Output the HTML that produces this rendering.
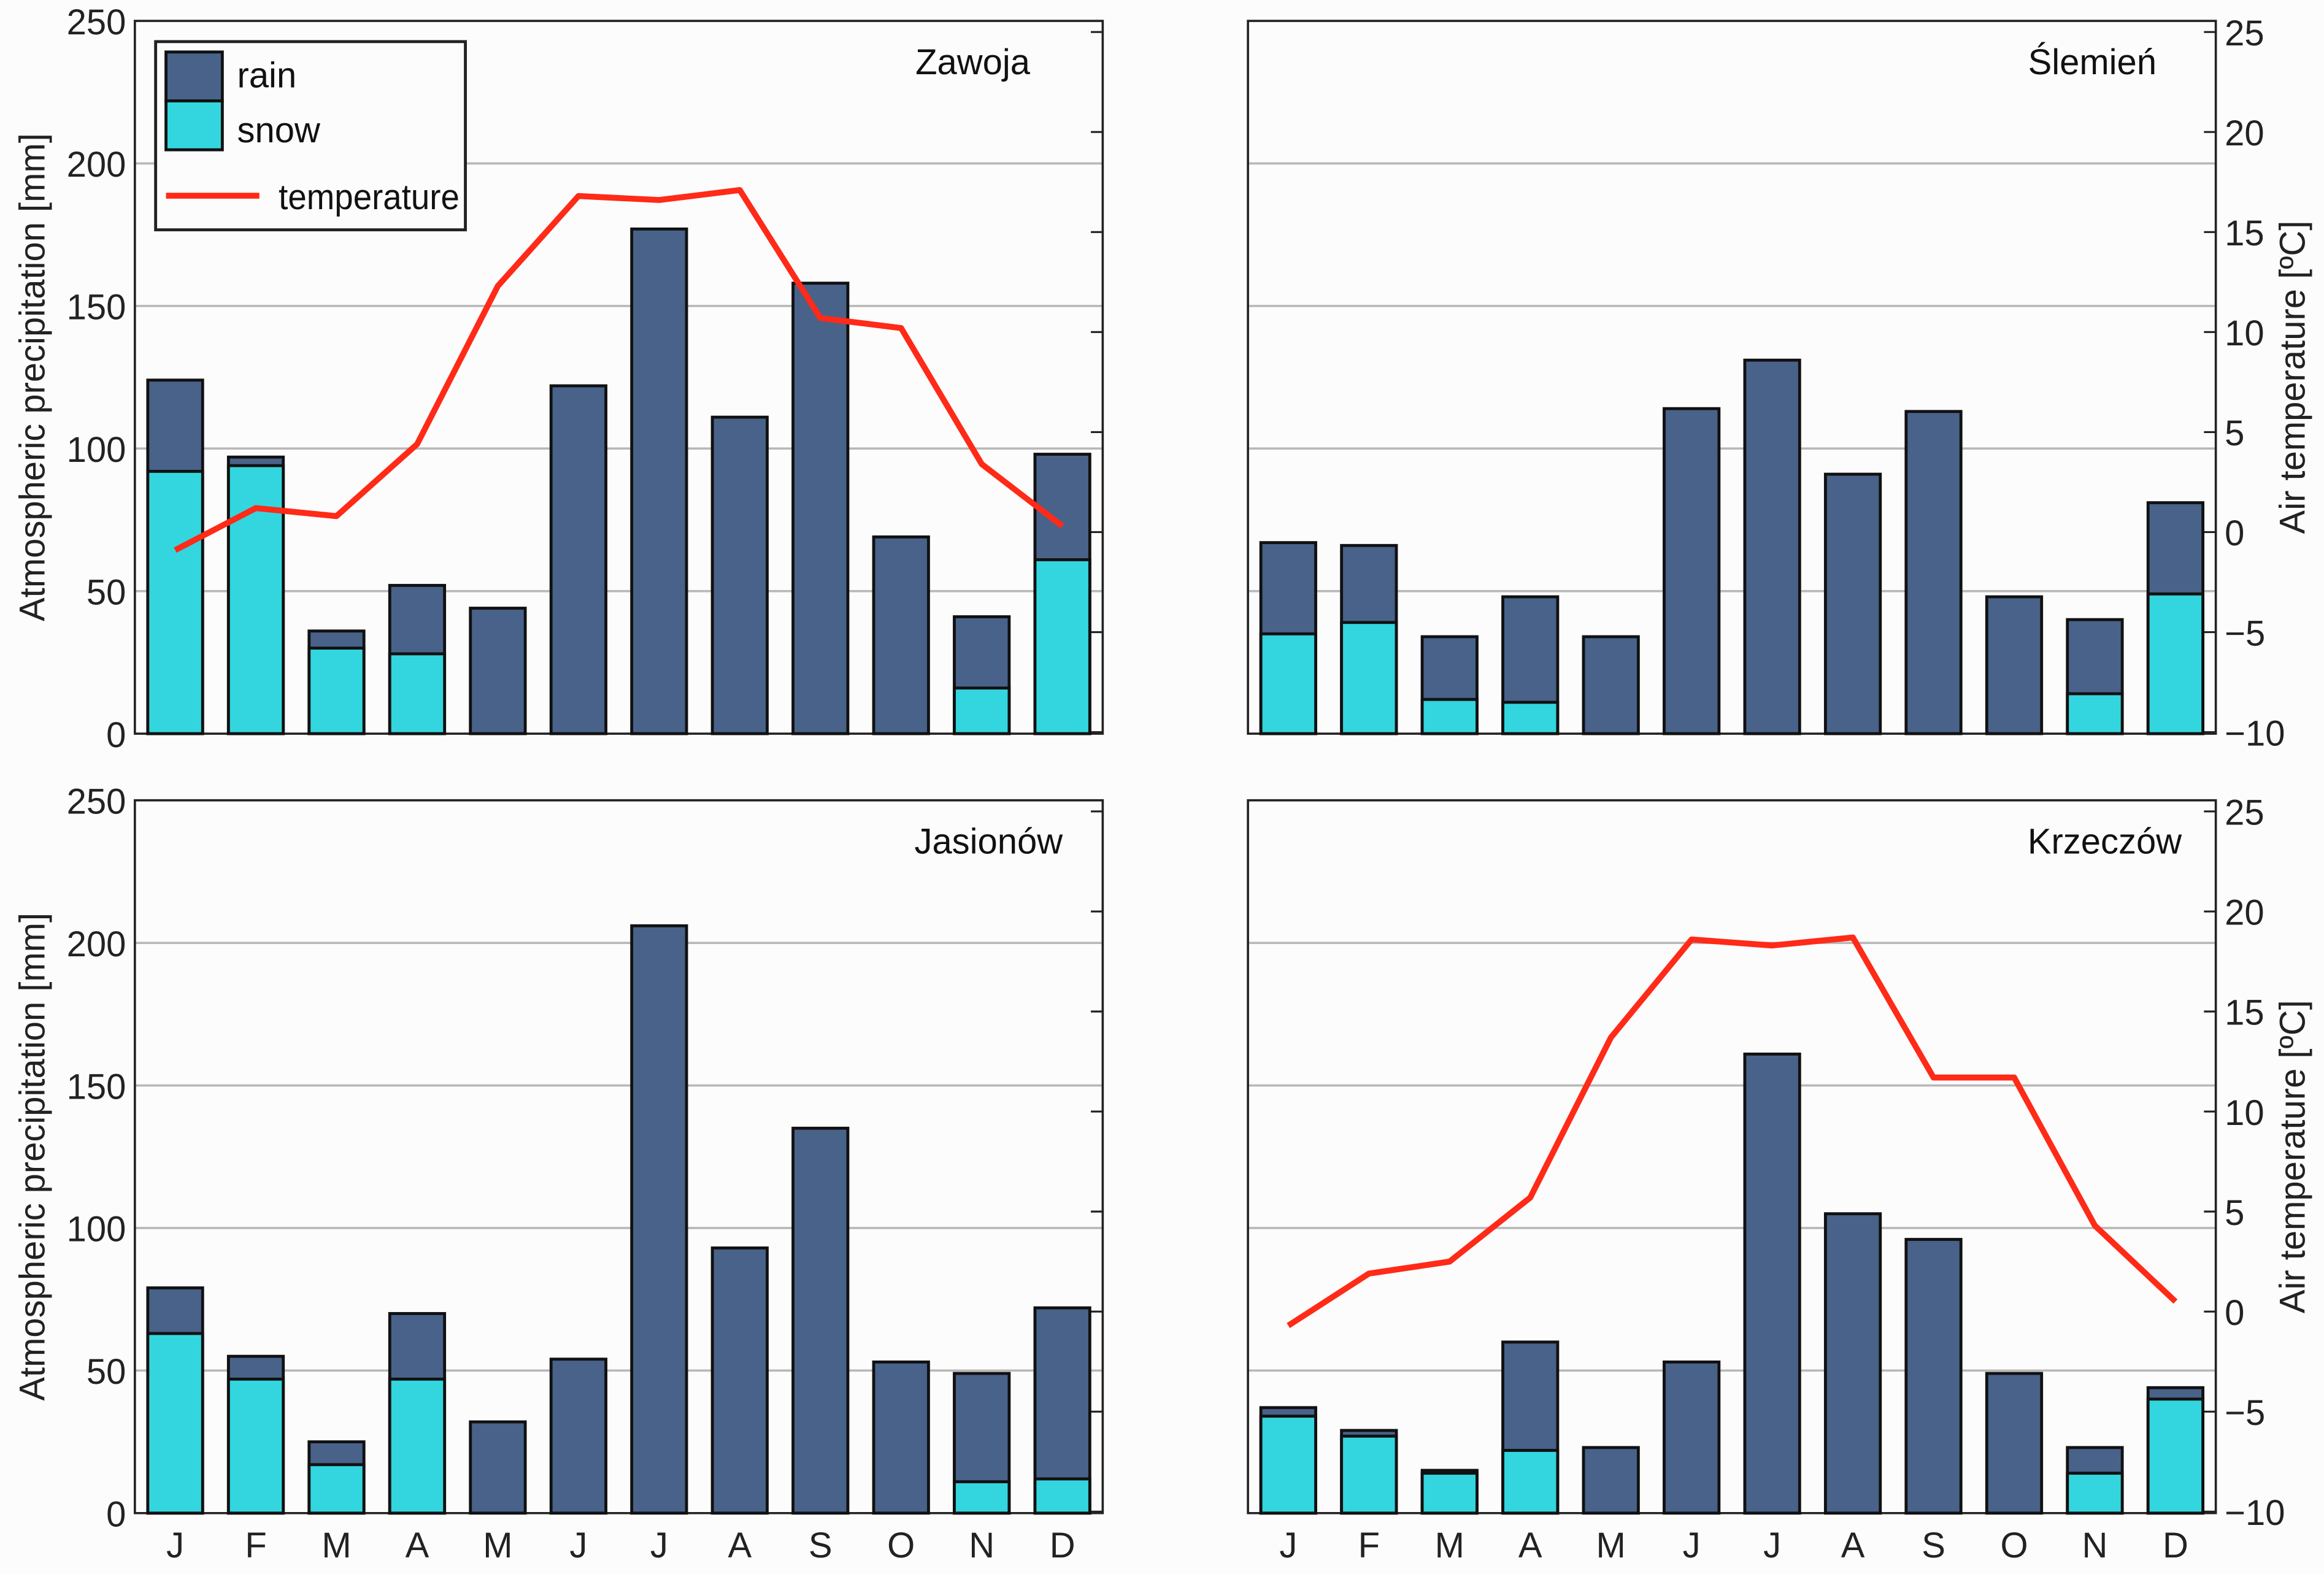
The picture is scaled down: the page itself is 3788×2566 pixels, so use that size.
<!DOCTYPE html>
<html><head><meta charset="utf-8"><style>
html,body{margin:0;padding:0;background:#fcfcfc;}
svg{display:block;font-family:"Liberation Sans","Noto Sans CJK SC",sans-serif;}
</style></head><body>
<svg id="c" width="3788" height="2566" viewBox="0 0 1568 1062" xmlns="http://www.w3.org/2000/svg"></svg>
<script>
const months = ["J","F","M","A","M","J","J","A","S","O","N","D"];
const zawojaTotal = [124,97,36,52,44,122,177,111,158,69,41,98];
const zawojaSnow  = [92,94,30,28,0,0,0,0,0,0,16,61];
const zawojaTemp  = [-0.9,1.2,0.8,4.4,12.3,16.8,16.6,17.1,10.7,10.2,3.4,0.3];
const slemienTotal = [67,66,34,48,34,114,131,91,113,48,40,81];
const slemienSnow  = [35,39,12,11,0,0,0,0,0,0,14,49];
const jasionowTotal = [79,55,25,70,32,54,206,93,135,53,49,72];
const jasionowSnow  = [63,47,17,47,0,0,0,0,0,0,11,12];
const krzeczowTotal = [37,29,15,60,23,53,161,105,96,49,23,44];
const krzeczowSnow  = [34,27,14,22,0,0,0,0,0,0,14,40];
const krzeczowTemp  = [-0.7,1.9,2.5,5.7,13.7,18.6,18.3,18.7,11.7,11.7,4.3,0.5];
const precipTicks = [0,50,100,150,200,250];
const tempTicks = [-10,-5,0,5,10,15,20,25];

const svg = document.getElementById('c');
const NS = "http://www.w3.org/2000/svg";
function mk(tag, attrs, parent, text){
  const e = document.createElementNS(NS, tag);
  for (const k in attrs) e.setAttribute(k, attrs[k]);
  if (text !== undefined) e.textContent = text;
  (parent||svg).appendChild(e);
  return e;
}
const bg = mk('rect',{x:0,y:0,width:1568,height:1062,fill:'#fcfcfc'});



function panel(opt){
  const g = mk('g',{});
  
  
  const x0=opt.x0, x1=opt.x0+653, yb=opt.yb, yt=opt.yb-481;
  const yP = v => yb - v*481/250;
  const yT = t => opt.t0 - t*13.5;
  const slot = (x1-x0)/12;
  const xc = i => x0 + slot*(i+0.5);
  [50,100,150,200].forEach(v=>{
    const l = mk('line',{x1:x0,x2:x1,y1:yP(v),y2:yP(v),stroke:'#b8b8b8','stroke-width':1.5},g);
    
    
  });
  const fr = mk('path',{d:`M${x0},${yb}V${yt}H${x1}V${yb}Z`,fill:'none',stroke:'#222','stroke-width':1.5},g);
  
  
  tempTicks.forEach(t=>{
    mk('line',{x1:x1-8,x2:x1,y1:yT(t),y2:yT(t),stroke:'#222','stroke-width':1.3},g);
  });
  if (opt.leftLabels){
    precipTicks.forEach(v=>{
      const t = mk('text',{x:x0-6,y:yP(v)+9,'text-anchor':'end','font-size':24,fill:'#222'},g,String(v));
      
      
    });
    const cy=(yt+yb)/2;
    const at = mk('text',{x:0,y:0,'text-anchor':'middle','font-size':24,fill:'#222',transform:`translate(30,${cy}) rotate(-90)`},g,'Atmospheric precipitation [mm]');
    
    
  }
  if (opt.rightLabels){
    tempTicks.forEach(t=>{
      const tx = mk('text',{x:x1+6,y:yT(t)+9,'font-size':24,fill:'#222'},g,String(t).replace('-','−'));
      
      
    });
    const cy=(yt+yb)/2;
    const at = mk('text',{x:0,y:0,'text-anchor':'middle','font-size':24,fill:'#222',transform:`translate(1555,${cy}) rotate(-90)`},g,'Air temperature [ºC]');
    
    
  }
  const bw = 37;
  opt.total.forEach((v,i)=>{
    const r = mk('rect',{x:xc(i)-bw/2,y:yP(v),width:bw,height:yb-yP(v),fill:'#48628a',stroke:'#111','stroke-width':2},g);
    
    
    const s = opt.snow[i];
    if (s>0){
      const r2 = mk('rect',{x:xc(i)-bw/2,y:yP(s),width:bw,height:yb-yP(s),fill:'#33d6de',stroke:'#111','stroke-width':2},g);
      
      
    }
  });
  if (opt.temp){
    const pts = opt.temp.map((t,i)=>`${xc(i)},${yT(t)}`).join(' ');
    const pl = mk('polyline',{points:pts,fill:'none',stroke:'#ff2a17','stroke-width':4,'stroke-linejoin':'round'},g);
    
    
  }
  if (opt.monthLabels){
    months.forEach((m,i)=>{
      const t = mk('text',{x:xc(i),y:yb+30,'text-anchor':'middle','font-size':24,fill:'#222'},g,m);
      
      
    });
  }
  const ti = mk('text',{x:opt.titleX,y:yt+36,'text-anchor':'end','font-size':24,fill:'#111'},g,opt.title);
  
  
}
panel({name:'panel-zawoja',x0:91,yb:495,t0:359,total:zawojaTotal,snow:zawojaSnow,temp:zawojaTemp,leftLabels:true,title:'Zawoja',titleX:695});
panel({name:'panel-slemien',x0:842,yb:495,t0:359,total:slemienTotal,snow:slemienSnow,rightLabels:true,title:'Ślemień',titleX:1455});
panel({name:'panel-jasionow',x0:91,yb:1021,t0:885,total:jasionowTotal,snow:jasionowSnow,leftLabels:true,monthLabels:true,title:'Jasionów',titleX:717});
panel({name:'panel-krzeczow',x0:842,yb:1021,t0:885,total:krzeczowTotal,snow:krzeczowSnow,temp:krzeczowTemp,rightLabels:true,monthLabels:true,title:'Krzeczów',titleX:1472});

const lg = mk('g',{});


mk('rect',{x:105,y:28,width:209,height:127,fill:'#fcfcfc',stroke:'#222','stroke-width':2},lg);
const l1=mk('rect',{x:112,y:35,width:38,height:33,fill:'#48628a',stroke:'#111','stroke-width':2},lg);


const l2=mk('rect',{x:112,y:68,width:38,height:33,fill:'#33d6de',stroke:'#111','stroke-width':2},lg);


const l3=mk('line',{x1:112,x2:175,y1:132,y2:132,stroke:'#ff2a17','stroke-width':4},lg);


const t1=mk('text',{x:160,y:59,'font-size':24,fill:'#111'},lg,'rain');


const t2=mk('text',{x:160,y:96,'font-size':24,fill:'#111'},lg,'snow');


const t3=mk('text',{x:188,y:141,'font-size':24,fill:'#111',textLength:122,lengthAdjust:'spacingAndGlyphs'},lg,'temperature');


</script>
</body></html>
